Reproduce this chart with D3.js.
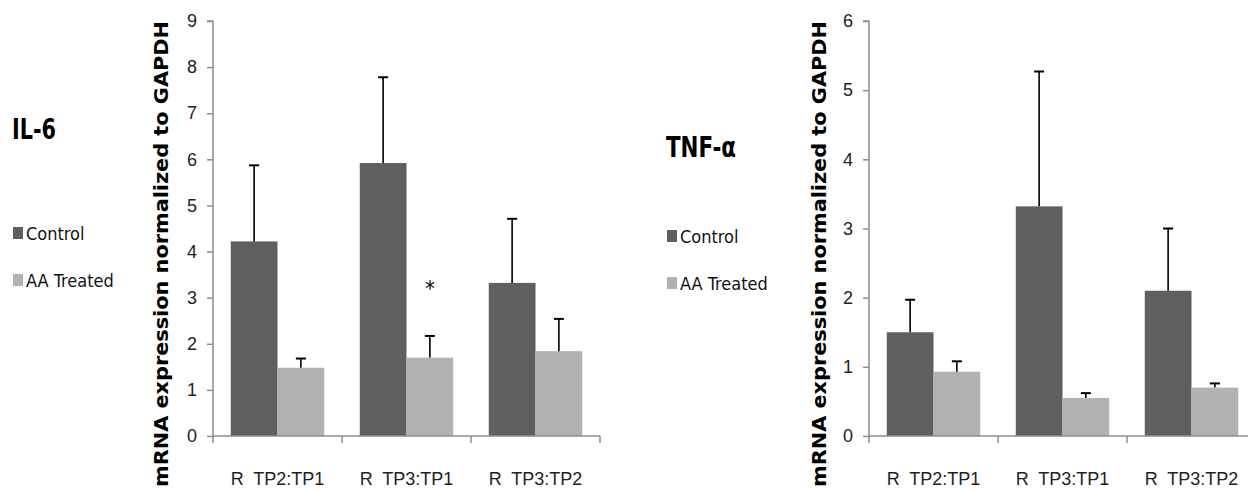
<!DOCTYPE html>
<html>
	<head>
		<meta charset="UTF-8" />
		<title>IL-6 & TNF-α</title>
		<script src="https://cdn.jsdelivr.net/npm/d3@7"></script>
		<style>
			body {
				margin: 0;
				background: #fff;
			}
			svg {
				display: block;
				font-family: "DejaVu Sans Condensed", "DejaVu Sans", sans-serif;
				font-stretch: condensed;
			}
		</style>
	</head>
	<body>
		<svg width="1248" height="490"></svg>

		<script>
			const categories = ["R  TP2:TP1", "R  TP3:TP1", "R  TP3:TP2"];
			const seriesNames = ["Control", "AA Treated"];

			// IL-6
			const il6Control = [4.22, 5.92, 3.32];
			const il6ControlErr = [1.65, 1.86, 1.39];
			const il6Treated = [1.48, 1.7, 1.84];
			const il6TreatedErr = [0.2, 0.47, 0.7];
			const il6Ticks = [0, 1, 2, 3, 4, 5, 6, 7, 8, 9];

			// TNF-α
			const tnfControl = [1.5, 3.32, 2.1];
			const tnfControlErr = [0.47, 1.95, 0.9];
			const tnfTreated = [0.93, 0.55, 0.7];
			const tnfTreatedErr = [0.15, 0.07, 0.06];
			const tnfTicks = [0, 1, 2, 3, 4, 5, 6];

			const colors = ["#5f5f5f", "#b2b2b2"];
			const yLabel = "mRNA expression normalized to GAPDH";

			const svg = d3.select("svg");

			function drawPanel(opt) {
				const g = svg.append("g");

				// title
				g.append("text")
					.text(opt.title)
					.attr("x", opt.titleX)
					.attr("y", opt.titleY)
					.attr("textLength", opt.titleLen)
					.attr("lengthAdjust", "spacingAndGlyphs")
					.style("font-size", "28px")
					.style("font-weight", "bold");

				// legend
				seriesNames.forEach((name, i) => {
					const ly = opt.legendY + i * 47;
					g.append("rect")
						.attr("x", opt.titleX + 1)
						.attr("y", ly - 13)
						.attr("width", 10)
						.attr("height", 12)
						.attr("fill", colors[i]);
					g.append("text")
						.text(name)
						.attr("x", opt.titleX + 14)
						.attr("y", ly)
						.style("font-size", "18px")
						.attr("fill", "#111");
				});

				// y label
				g.append("text")
					.text(yLabel)
					.attr("transform", `translate(${opt.labelX},254) rotate(-90)`)
					.attr("text-anchor", "middle")
					.attr("textLength", 466)
					.attr("lengthAdjust", "spacingAndGlyphs")
					.style("font-family", "'DejaVu Sans', sans-serif")
					.style("font-stretch", "normal")
					.style("font-size", "19px")
					.style("font-weight", "bold");

				const x = d3
					.scaleBand()
					.domain(categories)
					.range([opt.left, opt.left + 387]);
				const xs = d3
					.scaleBand()
					.domain(seriesNames)
					.range([0, x.bandwidth()])
					.paddingInner(0)
					.paddingOuter(0.38);
				const y = d3
					.scaleLinear()
					.domain([0, d3.max(opt.ticks)])
					.range([436, 21]);

				const rows = categories.map((c, i) => ({
					cat: c,
					vals: [
						{ s: seriesNames[0], v: opt.control[i], e: opt.controlErr[i] },
						{ s: seriesNames[1], v: opt.treated[i], e: opt.treatedErr[i] },
					],
				}));

				const groups = g
					.selectAll("g.cat")
					.data(rows)
					.enter()
					.append("g")
					.attr("transform", (d) => `translate(${x(d.cat)},0)`);

				groups
					.selectAll("rect")
					.data((d) => d.vals)
					.enter()
					.append("rect")
					.attr("x", (d) => xs(d.s))
					.attr("y", (d) => y(d.v))
					.attr("width", xs.bandwidth())
					.attr("height", (d) => y(0) - y(d.v))
					.attr("fill", (d, i) => colors[i]);

				// error bars (upper only)
				const err = groups
					.selectAll("g.err")
					.data((d) => d.vals)
					.enter()
					.append("g")
					.attr("stroke", "#000")
					.attr("stroke-width", 1.6);
				err.append("line")
					.attr("x1", (d) => xs(d.s) + xs.bandwidth() / 2)
					.attr("x2", (d) => xs(d.s) + xs.bandwidth() / 2)
					.attr("y1", (d) => y(d.v))
					.attr("y2", (d) => y(d.v + d.e));
				err.append("line")
					.attr("x1", (d) => xs(d.s) + xs.bandwidth() / 2 - 5)
					.attr("x2", (d) => xs(d.s) + xs.bandwidth() / 2 + 5)
					.attr("y1", (d) => y(d.v + d.e))
					.attr("y2", (d) => y(d.v + d.e))
					.attr("stroke-width", 2);

				// y axis
				const yAxis = g
					.append("g")
					.attr("transform", `translate(${opt.left},0)`)
					.call(
						d3.axisLeft(y).tickValues(opt.ticks).tickFormat(d3.format("d")).tickSize(6).tickPadding(10)
					);
				yAxis.selectAll("path, line").attr("stroke", "#8c8c8c").attr("stroke-width", 1.5);
				yAxis.select(".domain").attr("d", `M-6,${y(d3.max(opt.ticks))}H0V${y(0)}`);
				yAxis.selectAll("text")
					.style("font-size", "18px")
					.style("font-family", null)
					.attr("fill", "#222");

				// x axis
				const xAxis = g
					.append("g")
					.attr("transform", `translate(0,${y(0)})`)
					.call(d3.axisBottom(x).tickSize(0).tickPadding(36));
				xAxis.select(".domain").remove();
				xAxis.append("line")
					.attr("x1", opt.left - 1)
					.attr("x2", opt.left + 387)
					.attr("stroke", "#8c8c8c")
					.attr("stroke-width", 1.5);
				xAxis.selectAll("line.sep")
					.data(categories.concat(["end"]))
					.enter()
					.append("line")
					.attr("class", "sep")
					.attr("x1", (d, i) => opt.left + i * x.bandwidth())
					.attr("x2", (d, i) => opt.left + i * x.bandwidth())
					.attr("y1", 0)
					.attr("y2", 7)
					.attr("stroke", "#8c8c8c")
					.attr("stroke-width", 1.5);
				xAxis.selectAll(".tick text")
					.style("font-size", "18px")
					.style("font-family", null)
					.style("white-space", "pre")
					.attr("fill", "#222");
				svg.attr("font-family", null);

				if (opt.star != null) {
					const i = opt.star;
					g.append("text")
						.text("*")
						.attr("x", x(categories[i]) + xs(seriesNames[1]) + xs.bandwidth() / 2)
						.attr("y", y(opt.treated[i] + opt.treatedErr[i]) - 40)
						.attr("text-anchor", "middle")
						.style("font-size", "22px")
						.style("font-family", "'DejaVu Sans', sans-serif");
				}
			}

			drawPanel({
				title: "IL-6",
				titleX: 12,
				titleY: 139,
				titleLen: 44,
				legendY: 240,
				labelX: 168,
				left: 213,
				ticks: il6Ticks,
				control: il6Control,
				controlErr: il6ControlErr,
				treated: il6Treated,
				treatedErr: il6TreatedErr,
				star: 1,
			});

			drawPanel({
				title: "TNF-α",
				titleX: 666,
				titleY: 157,
				titleLen: 70,
				legendY: 243,
				labelX: 826,
				left: 869,
				ticks: tnfTicks,
				control: tnfControl,
				controlErr: tnfControlErr,
				treated: tnfTreated,
				treatedErr: tnfTreatedErr,
				star: null,
			});
		</script>
	</body>
</html>
